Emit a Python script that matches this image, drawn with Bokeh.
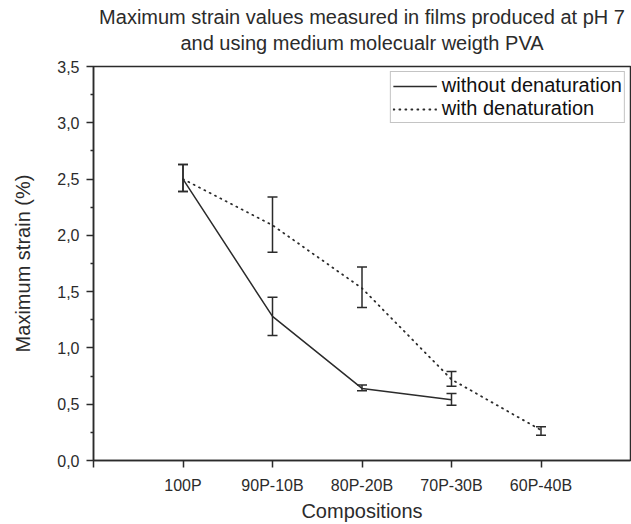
from bokeh.plotting import figure
from bokeh.models import (Range1d, FixedTicker, CustomJSTickFormatter, Whisker,
                          TeeHead, ColumnDataSource, Legend, LegendItem, Title)
from bokeh.embed import file_html
from bokeh.resources import INLINE

# Film compositions (PVA / B ratio)
compositions = ["100P", "90P-10B", "80P-20B", "70P-30B", "60P-40B"]

# Maximum strain (%) without denaturation, with error bar limits
strain_plain = [2.50, 1.28, 0.64, 0.54]
strain_plain_upper = [2.63, 1.45, 0.67, 0.595]
strain_plain_lower = [2.39, 1.11, 0.62, 0.49]

# Maximum strain (%) with denaturation, with error bar limits
strain_denat = [2.50, 2.09, 1.53, 0.72, 0.27]
strain_denat_upper = [2.63, 2.34, 1.72, 0.79, 0.30]
strain_denat_lower = [2.39, 1.85, 1.36, 0.66, 0.225]

y_ticks = [0.0, 0.5, 1.0, 1.5, 2.0, 2.5, 3.0, 3.5]

INK = "#2b2b2b"
FONT = "Liberation Sans"

x_plain = list(range(len(strain_plain)))
x_denat = list(range(len(strain_denat)))

src_plain = ColumnDataSource(dict(x=x_plain, y=strain_plain,
                                  upper=strain_plain_upper, lower=strain_plain_lower))
src_denat = ColumnDataSource(dict(x=x_denat, y=strain_denat,
                                  upper=strain_denat_upper, lower=strain_denat_lower))

p = figure(width=631, height=524, output_backend="svg", toolbar_location=None,
           x_range=Range1d(-1, len(compositions)), y_range=Range1d(y_ticks[0], y_ticks[-1]),
           min_border_left=93, min_border_right=1, min_border_top=66, min_border_bottom=60)

# two-line title, stacked outward from the frame (small blank spacer first)
p.add_layout(Title(text=" ", text_font=FONT, text_font_size="8px", standoff=0), "above")
p.add_layout(Title(text="and using medium molecualr weigth PVA", align="center",
                   text_font=FONT, text_font_size="20px", text_font_style="normal",
                   text_color=INK, standoff=4), "above")
p.add_layout(Title(text="Maximum strain values measured in films produced at pH 7", align="center",
                   text_font=FONT, text_font_size="20px", text_font_style="normal",
                   text_color=INK, standoff=0), "above")

p.xgrid.visible = False
p.ygrid.visible = False
p.outline_line_color = INK
p.outline_line_width = 1.5
p.background_fill_color = "white"
p.border_fill_color = "white"

# x axis: compositions as labelled positions
p.xaxis.ticker = FixedTicker(ticks=[-1] + list(range(len(compositions))), minor_ticks=[])
p.xaxis.major_label_overrides = {i: c for i, c in enumerate(compositions)} | {-1: ""}
p.xaxis.axis_label = "Compositions"

# y axis: decimal comma labels
minor = [t + 0.25 for t in y_ticks[:-1]]
p.yaxis.ticker = FixedTicker(ticks=y_ticks, minor_ticks=minor)
p.yaxis.formatter = CustomJSTickFormatter(code="return tick.toFixed(1).replace('.', ',');")
p.yaxis.axis_label = "Maximum strain (%)"

for ax in (p.xaxis[0], p.yaxis[0]):
    ax.axis_line_color = INK
    ax.axis_line_width = 1.5
    ax.major_tick_line_color = INK
    ax.major_tick_line_width = 1.5
    ax.major_tick_in = 0
    ax.major_tick_out = 7
    ax.minor_tick_line_color = INK
    ax.minor_tick_line_width = 1.5
    ax.minor_tick_in = 0
    ax.minor_tick_out = 3
    ax.major_label_text_font = FONT
    ax.major_label_text_font_size = "16px"
    ax.major_label_text_color = INK
    ax.axis_label_text_font = FONT
    ax.axis_label_text_font_size = "20px"
    ax.axis_label_text_font_style = "normal"
    ax.axis_label_text_color = INK
    ax.major_label_standoff = 7

p.xaxis.major_label_standoff = 9
p.xaxis.axis_label_standoff = 3
p.yaxis.axis_label_standoff = 20

# series lines
r_plain = p.line("x", "y", source=src_plain, line_color=INK, line_width=1.5)
r_denat = p.line("x", "y", source=src_denat, line_color=INK, line_width=1.8,
                 line_dash="1 5", line_cap="round")

# error bars
for src in (src_plain, src_denat):
    p.add_layout(Whisker(source=src, base="x", upper="upper", lower="lower",
                         line_color=INK, line_width=1.5,
                         upper_head=TeeHead(size=10, line_color=INK, line_width=1.5),
                         lower_head=TeeHead(size=10, line_color=INK, line_width=1.5)))

legend = Legend(items=[LegendItem(label="without denaturation", renderers=[r_plain]),
                       LegendItem(label="with denaturation", renderers=[r_denat])],
                location="top_right", margin=5, padding=2, spacing=0,
                glyph_width=44, glyph_height=18, label_height=18, label_standoff=5,
                label_text_font=FONT, label_text_font_size="20px", label_text_color="#111111",
                border_line_color="#8a8a8a", border_line_width=1.2,
                background_fill_color="white", background_fill_alpha=1.0)
p.add_layout(legend)

open("out.html", "w").write(file_html(p, INLINE))
